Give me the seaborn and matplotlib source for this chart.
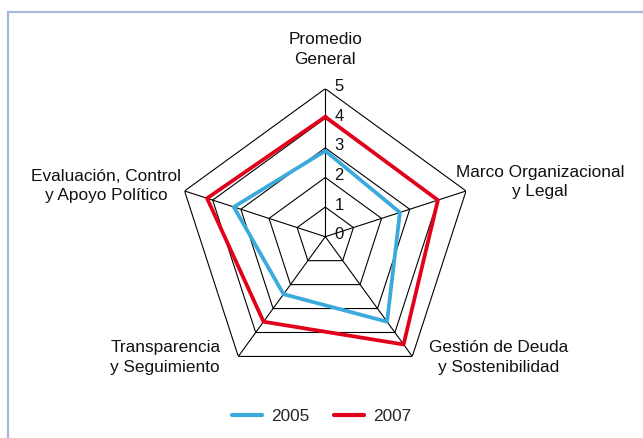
import numpy as np
import pandas as pd
import matplotlib
matplotlib.use("Agg")
import matplotlib.pyplot as plt
from matplotlib.patches import Rectangle
import seaborn as sns

categories = ["Promedio\nGeneral", "Marco Organizacional\ny Legal",
              "Gestión de Deuda\ny Sostenibilidad", "Transparencia\ny Seguimiento",
              "Evaluación, Control\ny Apoyo Político"]
values_2005 = [2.9, 2.65, 3.55, 2.4, 3.25]
values_2007 = [4.05, 4.0, 4.5, 3.55, 4.2]
years = ["2005", "2007"]
ticks = [0, 1, 2, 3, 4, 5]

sns.set_style("white")
plt.rcParams["font.family"] = ["Liberation Sans", "DejaVu Sans"]

W, H = 643, 438
fig = plt.figure(figsize=(W / 100, H / 100), dpi=100)

# frame
fig.patches.append(Rectangle((8 / W, -0.1), 1.2, (H - 12) / H + 0.1,
                             transform=fig.transFigure, fill=False,
                             edgecolor="#A8B8DA", linewidth=1.6))

cx, cy, R = 325.3, 236.7, 148.0
ax = fig.add_axes([(cx - R) / W, (H - cy - R) / H, 2 * R / W, 2 * R / H],
                  projection="polar")
ax.set_theta_offset(np.pi / 2)
ax.set_theta_direction(-1)
ax.set_ylim(0, 5)
ax.grid(False)
ax.spines["polar"].set_visible(False)
ax.set_xticks([])
ax.set_yticks([])
ax.patch.set_visible(False)

n = len(categories)
theta = np.linspace(0, 2 * np.pi, n, endpoint=False)
theta_c = np.append(theta, theta[0])

# pentagon grid
for k in ticks[1:]:
    ax.plot(theta_c, [k] * (n + 1), color="black", lw=0.8, zorder=1)
for t in theta:
    ax.plot([t, t], [0, ticks[-1]], color="black", lw=0.8, zorder=1)

# data
df = pd.DataFrame({
    "theta": np.concatenate([theta_c, theta_c]),
    "value": values_2005 + values_2005[:1] + values_2007 + values_2007[:1],
    "year": [years[0]] * (n + 1) + [years[1]] * (n + 1),
})
palette = {"2005": "#3AA9DB", "2007": "#E2001A"}
sns.lineplot(data=df, x="theta", y="value", hue="year", sort=False,
             estimator=None, palette=palette, linewidth=2.7, ax=ax, zorder=3)
ax.set_xlabel("")
ax.set_ylabel("")

# tick labels
for k in ticks:
    ax.annotate(str(k), xy=(0, k), xytext=(10, 1.5), textcoords="offset points",
                ha="center", va="center", fontsize=12, color="#111111", zorder=4)

# category labels (offsets in pixels from outer vertex)
offs = [(0, 39), (74, 9), (86, -1), (-73, -1), (-78.5, 5)]
for t, lab, (dx, dy) in zip(theta, categories, offs):
    ax.annotate(lab, xy=(t, 5), xytext=(dx * 0.72, dy * 0.72),
                textcoords="offset points", ha="center", va="center",
                multialignment="center", fontsize=12.4, color="#111111",
                linespacing=1.38, annotation_clip=False)

leg = ax.legend(loc="center", bbox_to_anchor=(0.5, (H - 416) / H),
                bbox_transform=fig.transFigure, ncol=2, frameon=False,
                fontsize=12.4, handlelength=1.75, handletextpad=0.5,
                columnspacing=1.45)
for line in leg.get_lines():
    line.set_linewidth(3.0)

fig.savefig("out.png", dpi=100)
